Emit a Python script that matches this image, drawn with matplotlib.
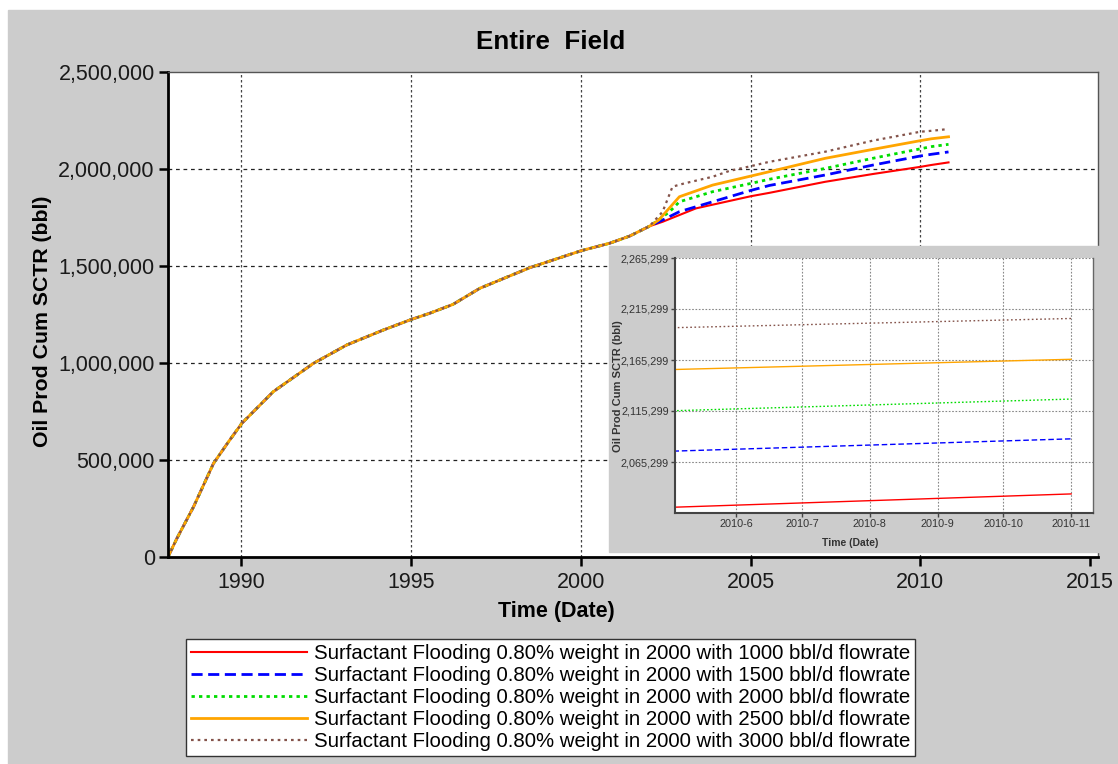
import numpy as np
import pandas as pd
import matplotlib
matplotlib.use('Agg')
import matplotlib.pyplot as plt
import matplotlib.dates as mdates
from matplotlib.patches import Rectangle
from matplotlib.ticker import FuncFormatter

plt.rcParams['font.family'] = ['Liberation Sans', 'DejaVu Sans']

# riwayat produksi bersama (sebelum skenario injeksi berpisah)
hist_dates = ['1987-11-06', '1988-02-10', '1988-08-07', '1989-03-10', '1989-08-18',
              '1990-01-08', '1990-12-12', '1992-02-17', '1993-02-10', '1994-03-10',
              '1995-01-08', '1995-07-20', '1996-03-28', '1997-01-11', '1998-07-01',
              '2000-01-08', '2000-11-06', '2001-06-10', '2002-01-10']
hist_oil = [0, 96000, 259000, 483000, 594000,
            689000, 852000, 998000, 1093000, 1170000,
            1225000, 1256000, 1302000, 1385000, 1491000,
            1579000, 1617000, 1654000, 1705000]

# skenario surfaktan
flowrates = [1000, 1500, 2000, 2500, 3000]

red_dates = ['2002-06-01', '2003-05-25', '2005-01-08', '2005-07-22', '2007-03-15',
             '2008-08-07', '2010-01-01', '2010-05-04', '2010-11-01']
red_oil = [1728000, 1797000, 1860000, 1877000, 1934000,
           1974000, 2011000, 2021000, 2034000]

blue_dates = ['2002-06-01', '2002-11-28', '2003-11-20', '2005-01-08', '2005-07-22',
              '2007-03-15', '2008-08-07', '2010-01-01', '2010-05-04', '2010-11-01']
blue_oil = [1737000, 1780000, 1831000, 1890000, 1915000,
            1969000, 2020000, 2067000, 2076000, 2088000]

green_dates = ['2002-04-10', '2002-08-15', '2002-11-28', '2003-11-20', '2005-01-08',
               '2005-07-22', '2007-03-15', '2008-08-07', '2010-01-01', '2010-05-04',
               '2010-11-01']
green_oil = [1735000, 1780000, 1831000, 1883000, 1926000,
             1947000, 2003000, 2055000, 2104000, 2115600,
             2127000]

orange_dates = ['2002-04-20', '2002-11-28', '2003-11-20', '2005-01-08', '2005-07-22',
                '2007-03-15', '2008-08-07', '2010-01-01', '2010-05-04', '2010-11-01']
orange_oil = [1737000, 1857000, 1917000, 1964000, 1986000,
              2055000, 2101000, 2146000, 2156000, 2166000]

brown_dates = ['2002-06-01', '2002-09-15', '2003-01-22', '2003-11-20', '2004-05-18',
               '2005-01-08', '2005-07-22', '2007-03-15', '2008-08-07', '2010-01-01',
               '2010-05-04', '2010-11-01']
brown_oil = [1780000, 1909000, 1926000, 1960000, 1990000,
             2015000, 2037000, 2089000, 2146000, 2192000,
             2197000, 2206000]

year_ticks = [1990, 1995, 2000, 2005, 2010, 2015]
y_ticks = [0, 500000, 1000000, 1500000, 2000000, 2500000]
inset_months = ['2010-06-01', '2010-07-01', '2010-08-01', '2010-09-01', '2010-10-01', '2010-11-01']
inset_yticks = [2065299, 2115299, 2165299, 2215299, 2265299]


def to_num(dates):
    return mdates.date2num(pd.to_datetime(dates).to_pydatetime())


def series(b_dates, b_oil):
    return to_num(hist_dates + b_dates), np.array(hist_oil + b_oil)


cases = [
    (red_dates, red_oil, '#ff0000', '-', 1.5),
    (blue_dates, blue_oil, '#0000ff', (0, (4, 2)), 2.0),
    (green_dates, green_oil, '#00dd00', (0, (1.2, 1.5)), 2.0),
    (orange_dates, orange_oil, '#ffa500', '-', 2.0),
    (brown_dates, brown_oil, '#84534a', (0, (1.2, 1.8)), 1.6),
]

W, H = 1118, 764
fig = plt.figure(figsize=(W / 100, H / 100), dpi=100)
fig.patch.set_facecolor('white')
fig.add_artist(Rectangle((8 / W, 0), 1 - 8 / W, 1 - 10 / H, transform=fig.transFigure,
                         color='#cccccc', zorder=-10))

ax = fig.add_axes([168 / W, 1 - 557 / H, 930 / W, 485 / H])
handles = []
for (d, v, c, ls, lw), q in zip(cases, flowrates):
    x, y = series(d, v)
    h, = ax.plot(x, y, color=c, ls=ls, lw=lw,
                 label=f'Surfactant Flooding 0.80% weight in 2000 with {q} bbl/d flowrate')
    handles.append(h)

ax.set_xlim(to_num(['1987-11-06'])[0], to_num(['2015-03-28'])[0])
ax.set_ylim(0, 2500000)
ax.set_xticks(to_num([f'{t}-01-01' for t in year_ticks]))
ax.set_xticklabels([str(t) for t in year_ticks])
ax.set_yticks(y_ticks)
ax.yaxis.set_major_formatter(FuncFormatter(lambda v, p: f'{v:,.0f}'))

ax.yaxis.grid(True, color='#222222', ls=(0, (3, 3)), lw=0.9)
ax.xaxis.grid(True, color='#444444', ls=(0, (2, 2)), lw=0.9)
ax.get_xgridlines()[-1].set_visible(False)
ax.get_ygridlines()[0].set_visible(False)
ax.get_ygridlines()[-1].set_visible(False)

for s in ['left', 'bottom']:
    ax.spines[s].set_linewidth(2)
    ax.spines[s].set_color('black')
for s in ['top', 'right']:
    ax.spines[s].set_linewidth(1)
    ax.spines[s].set_color('#555555')
ax.tick_params(direction='out', length=6.5, width=1.8, labelsize=15.5, labelcolor='#1a1a1a')
ax.tick_params(axis='y', pad=3)
ax.tick_params(axis='x', pad=4)

fig.text(551 / W, 1 - 42 / H, 'Entire  Field', ha='center', va='center',
         fontsize=18.7, fontweight='bold')
fig.text(42 / W, 1 - 321 / H, 'Oil Prod Cum SCTR (bbl)', ha='center', va='center',
         rotation=90, fontsize=15.3, fontweight='bold')
fig.text(556 / W, 1 - 612 / H, 'Time (Date)', ha='center', va='center',
         fontsize=15.5, fontweight='bold')

# inset zoom akhir simulasi
fig.add_artist(Rectangle((609 / W, 1 - 552 / H), 1 - 609 / W, (552 - 246) / H,
                         transform=fig.transFigure, color='#cccccc', zorder=1))
ins = fig.add_axes([675 / W, 1 - 513 / H, 418 / W, 255 / H], zorder=2)
for d, v, c, ls, lw in cases:
    x, y = series(d, v)
    ins.plot(x, y, color=c, ls=ls, lw=1.0)
ins.set_xlim(to_num(['2010-05-04'])[0], to_num(['2010-11-11'])[0])
ins.set_ylim(2015299, 2265299)
ins.set_xticks(to_num(inset_months))
ins.set_xticklabels([f'{m[:4]}-{int(m[5:7])}' for m in inset_months])
ins.set_yticks(inset_yticks)
ins.yaxis.set_major_formatter(FuncFormatter(lambda v, p: f'{v:,.0f}'))
ins.grid(True, color='#888888', ls=(0, (1.5, 1.5)), lw=0.8)
ins.spines['top'].set_visible(False)
for s in ['left', 'bottom']:
    ins.spines[s].set_linewidth(1.5)
    ins.spines[s].set_color('#444444')
ins.spines['right'].set_linewidth(1)
ins.spines['right'].set_color('#666666')
ins.tick_params(direction='out', length=3, width=1, labelsize=7.8, colors='#444444',
                labelcolor='#333333', pad=1.5)
fig.text(618 / W, 1 - 386 / H, 'Oil Prod Cum SCTR (bbl)', ha='center', va='center',
         rotation=90, fontsize=8, fontweight='bold', color='#333333')
fig.text(850 / W, 1 - 543 / H, 'Time (Date)', ha='center', va='center',
         fontsize=7.5, fontweight='bold', color='#333333')

leg = fig.legend(handles=handles, loc='upper left', bbox_to_anchor=(186 / W, 1 - 639 / H),
                 borderaxespad=0, fontsize=14.7, handlelength=5.7, handletextpad=0.3,
                 labelspacing=0.15, borderpad=0.25, fancybox=False, framealpha=1,
                 edgecolor='#333333')
leg.get_frame().set_linewidth(1)

fig.savefig('out.png', dpi=100)
